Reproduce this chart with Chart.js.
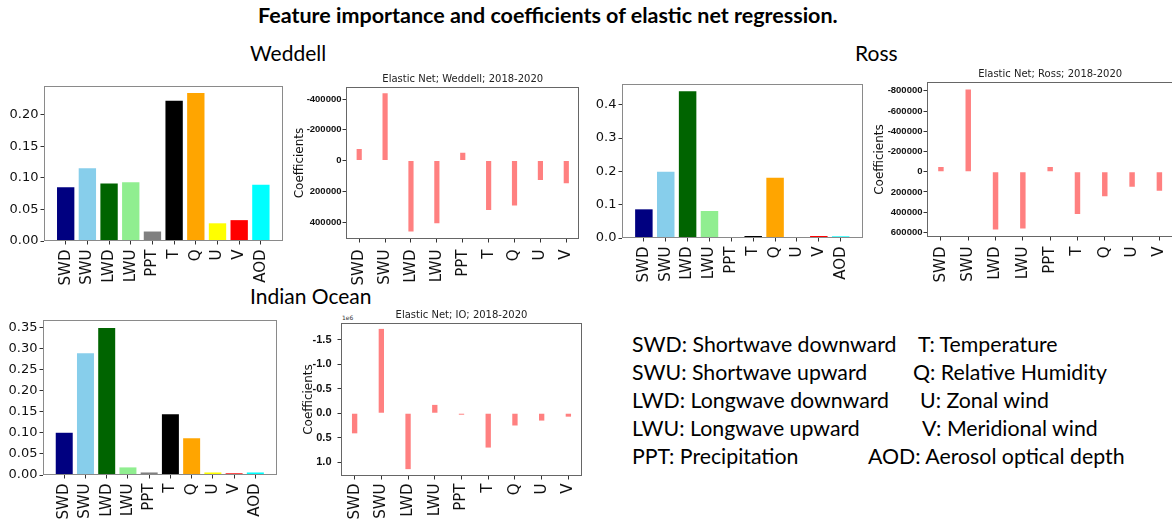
<!DOCTYPE html>
<html>
<head>
<meta charset="utf-8">
<script src="https://cdn.jsdelivr.net/npm/chart.js@4.4.1/dist/chart.umd.min.js"></script>
<style>
  body { margin: 0; width: 1172px; height: 522px; overflow: hidden; background: #fff; position: relative; font-family: Lato, sans-serif; }
  canvas { position: absolute; }
  .txt { position: absolute; white-space: nowrap; color: #000; line-height: 1; }
  .leg { font-size: 21.3px; }
</style>
</head>
<body>
<div class="txt" style="left:258px;top:5px;font-size:21.5px;font-weight:bold;">Feature importance and coefficients of elastic net regression.</div>
<div class="txt" style="left:250px;top:42px;font-size:21px;">Weddell</div>
<div class="txt" style="left:855px;top:42px;font-size:21px;">Ross</div>
<div class="txt" style="left:250px;top:285px;font-size:21px;">Indian Ocean</div>
<div class="txt" style="left:342px;top:315px;font-size:6px;font-family:'DejaVu Sans';color:#333;">1e6</div>

<div class="txt leg" style="left:632px;top:334px;">SWD: Shortwave downward</div>
<div class="txt leg" style="left:632px;top:362px;">SWU: Shortwave upward</div>
<div class="txt leg" style="left:632px;top:390px;">LWD: Longwave downward</div>
<div class="txt leg" style="left:632px;top:418px;">LWU: Longwave upward</div>
<div class="txt leg" style="left:632px;top:446px;">PPT: Precipitation</div>
<div class="txt leg" style="left:918px;top:334px;">T: Temperature</div>
<div class="txt leg" style="left:913px;top:362px;">Q: Relative Humidity</div>
<div class="txt leg" style="left:920px;top:390px;">U: Zonal wind</div>
<div class="txt leg" style="left:922px;top:418px;">V: Meridional wind</div>
<div class="txt leg" style="left:868px;top:446px;">AOD: Aerosol optical depth</div>

<script>
// feature names
const impLabels = ["SWD", "SWU", "LWD", "LWU", "PPT", "T", "Q", "U", "V", "AOD"];
const impColors = ["#000080", "#87ceeb", "#006400", "#90ee90", "#808080", "#000000", "#ffa500", "#ffff00", "#ff0000", "#00ffff"];
const coefLabels = ["SWD", "SWU", "LWD", "LWU", "PPT", "T", "Q", "U", "V"];

// feature importance
const weddellImp = [0.085, 0.115, 0.091, 0.093, 0.015, 0.222, 0.234, 0.028, 0.033, 0.089];
const rossImp = [0.086, 0.199, 0.440, 0.081, 0.002, 0.006, 0.181, 0.002, 0.006, 0.005];
const ioImp = [0.100, 0.288, 0.348, 0.018, 0.006, 0.144, 0.087, 0.006, 0.004, 0.006];

// elastic net coefficients
const weddellCoef = [-75000, -437000, 462000, 408000, -50000, 322000, 292000, 127000, 148000];
const rossCoef = [-47000, -813000, 572000, 562000, -47000, 417000, 241000, 149000, 188000];
const ioCoef = [410000, -1720000, 1140000, -170000, 30000, 700000, 250000, 150000, 70000];

// tick values
const weddellImpTicks = [0, 0.05, 0.10, 0.15, 0.20];
const rossImpTicks = [0, 0.1, 0.2, 0.3, 0.4];
const ioImpTicks = [0, 0.05, 0.10, 0.15, 0.20, 0.25, 0.30, 0.35];
const weddellCoefTicks = [-400000, -200000, 0, 200000, 400000];
const rossCoefTicks = [-800000, -600000, -400000, -200000, 0, 200000, 400000, 600000];
const ioCoefTicks = [-1500000, -1000000, -500000, 0, 500000, 1000000];

const coefColor = "#ff8080";

const framePlugin = {
  id: "frame",
  afterDraw(chart, args, opts) {
    const { ctx, chartArea: a } = chart;
    ctx.save();
    ctx.strokeStyle = opts.color;
    ctx.lineWidth = 1;
    ctx.strokeRect(Math.round(a.left) + 0.5, Math.round(a.top) + 0.5,
      Math.round(a.right) - Math.round(a.left) - 1, Math.round(a.bottom) - Math.round(a.top) - 1);
    ctx.restore();
  },
};

function makeChart(cfg) {
  const left = cfg.plotLeft - cfg.yw;
  const top = cfg.plotTop - cfg.topPad;
  const width = cfg.plotRight + cfg.rightPad - left;
  const height = cfg.plotBottom + cfg.xh - top;
  const canvas = document.createElement("canvas");
  canvas.width = width;
  canvas.height = height;
  canvas.style.left = `${left}px`;
  canvas.style.top = `${top}px`;
  canvas.style.width = `${width}px`;
  canvas.style.height = `${height}px`;
  document.body.appendChild(canvas);

  return new Chart(canvas.getContext("2d"), {
    type: "bar",
    data: {
      datasets: [{
        data: cfg.values.map((v, i) => ({ x: i, y: v })),
        backgroundColor: cfg.colors,
        borderWidth: 0,
        barPercentage: cfg.barPct,
        categoryPercentage: 1,
      }],
    },
    plugins: [framePlugin],
    options: {
      responsive: false,
      animation: false,
      events: [],
      layout: { padding: { top: cfg.title ? 0 : cfg.topPad, right: cfg.rightPad, left: 0, bottom: 0 } },
      plugins: {
        legend: { display: false },
        tooltip: { enabled: false },
        frame: { color: cfg.frameColor },
        title: cfg.title ? {
          display: true,
          text: cfg.title,
          fullSize: false,
          padding: { top: 0, bottom: 2 },
          color: "#222",
          font: { family: "DejaVu Sans", size: 10, weight: "normal" },
        } : { display: false },
      },
      scales: {
        x: {
          type: "linear",
          min: cfg.xMin,
          max: cfg.xMax,
          offset: false,
          afterBuildTicks: (s) => { s.ticks = cfg.labels.map((l, i) => ({ value: i })); },
          afterFit: (s) => { s.height = cfg.xh; },
          grid: { display: true, drawOnChartArea: false, drawTicks: true, tickLength: 3.5, color: "#333", offset: false },
          border: { display: false },
          ticks: {
            autoSkip: false,
            minRotation: 90,
            maxRotation: 90,
            padding: cfg.xPad,
            color: "#111",
            font: { family: "DejaVu Sans", size: cfg.xFont },
            callback: (v) => cfg.labels[v],
          },
        },
        y: {
          type: "linear",
          min: cfg.yMin,
          max: cfg.yMax,
          reverse: cfg.reverse,
          afterBuildTicks: (s) => { s.ticks = cfg.yTicks.map((v) => ({ value: v })); },
          afterFit: (s) => { s.width = cfg.yw; },
          grid: { display: true, drawOnChartArea: false, drawTicks: true, tickLength: 3.5, color: "#333" },
          border: { display: false },
          ticks: {
            padding: cfg.yPad,
            color: "#111",
            font: cfg.yFontObj,
            callback: cfg.yFmt,
          },
          title: cfg.yTitle ? {
            display: true,
            text: cfg.yTitle,
            padding: 0,
            color: "#111",
            font: { family: "DejaVu Sans", size: 12 },
          } : { display: false },
        },
      },
    },
  });
}

const impBase = {
  labels: impLabels, colors: impColors, barPct: 0.8, xMin: -1, xMax: 10.02,
  xh: 60, xPad: 5, xFont: 15, yPad: 2, topPad: 10, rightPad: 9,
  yFontObj: { family: "DejaVu Sans", size: 13 }, reverse: false, frameColor: "#8a8a8a",
};
const coefBase = {
  labels: coefLabels, colors: coefColor, barPct: 0.2, xMin: -0.51, xMax: 8.51,
  xh: 60, xFont: 15, topPad: 14, rightPad: 9, yPad: 1,
  yFontObj: { family: "Liberation Sans", size: 9.5, weight: "bold" }, reverse: true,
  frameColor: "#666", yTitle: "Coefficients", yFmt: (v) => String(v),
};

// Weddell
makeChart({ ...impBase, values: weddellImp, yTicks: weddellImpTicks, yMin: 0, yMax: 0.2452,
  plotLeft: 44, plotTop: 86, plotRight: 283, plotBottom: 241, yw: 44, yFmt: (v) => v.toFixed(2) });
makeChart({ ...coefBase, values: weddellCoef, yTicks: weddellCoefTicks, yMin: -478000, yMax: 510000,
  plotLeft: 346, plotTop: 87, plotRight: 583, plotBottom: 239, yw: 53, xPad: 7,
  title: "Elastic Net; Weddell; 2018-2020" });

// Ross
makeChart({ ...impBase, values: rossImp, yTicks: rossImpTicks, yMin: 0, yMax: 0.462,
  plotLeft: 622, plotTop: 84, plotRight: 863, plotBottom: 238, yw: 40, yFmt: (v) => v.toFixed(1) });
makeChart({ ...coefBase, values: rossCoef, yTicks: rossCoefTicks, yMin: -887000, yMax: 645000,
  plotLeft: 927, plotTop: 82, plotRight: 1175, plotBottom: 237, yw: 54, xPad: 6,
  title: "Elastic Net; Ross; 2018-2020" });

// Indian Ocean
makeChart({ ...impBase, values: ioImp, yTicks: ioImpTicks, yMin: 0, yMax: 0.367,
  plotLeft: 43, plotTop: 320, plotRight: 277, plotBottom: 475, yw: 43, yFmt: (v) => v.toFixed(2) });
makeChart({ ...coefBase, values: ioCoef, yTicks: ioCoefTicks, yMin: -1840000, yMax: 1280000,
  plotLeft: 341, plotTop: 323, plotRight: 582, plotBottom: 476, yw: 39, xPad: 4, yPad: 6,
  yFontObj: { family: "Liberation Sans", size: 11, weight: "bold" },
  yFmt: (v) => (v / 1e6).toFixed(1),
  title: "Elastic Net; IO; 2018-2020" });
</script>
</body>
</html>
